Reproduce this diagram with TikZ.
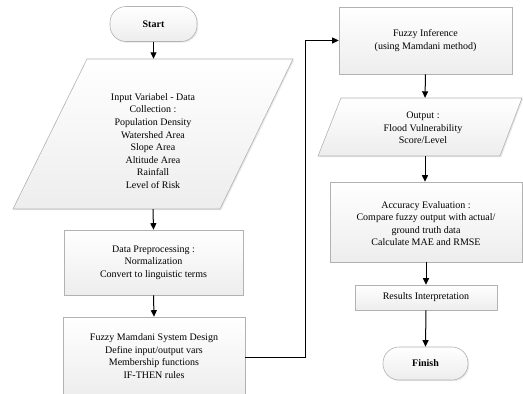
\documentclass[tikz,border=0pt]{standalone}
\usepackage{fontspec}
\setmainfont{Liberation Serif}
\usetikzlibrary{arrows.meta,shadows,calc}
\tikzset{
  boxsh/.style={draw=gray!60, line width=0.6pt, top color=white, bottom color=gray!14,
    drop shadow={shadow xshift=1.2pt, shadow yshift=-1.2pt, fill=gray!35}},
  procbox/.style={boxsh, rectangle, align=center, inner sep=0pt,
    font=\fontsize{10}{12.6}\selectfont},
  termbox/.style={boxsh, rounded corners=16pt, align=center, inner sep=0pt,
    font=\fontsize{10}{12}\selectfont\bfseries},
  txt/.style={align=center, inner sep=0pt, font=\fontsize{10}{12.6}\selectfont},
  arr/.style={line width=1pt, -{Triangle[length=6.5pt,width=6pt]}},
  conn/.style={line width=0.8pt, -{Triangle[length=6.5pt,width=6pt]}}
}
\begin{document}
\begin{tikzpicture}[x=1pt,y=-1pt]
\useasboundingbox (0,0) rectangle (523,394);
% Start
\node[termbox, minimum width=87pt, minimum height=35pt] (start) at (153.5,24) {Start};
% Input parallelogram
\path[boxsh] (87,59) -- (293,59) -- (220,209) -- (13,209) -- cycle;
\node[inner sep=0pt, minimum width=130pt, minimum height=150pt] (input) at (153,134) {};
\node[txt] (inputtext) at (153,141)
  {Input Variabel - Data\\Collection :\\Population Density\\Watershed Area\\Slope Area\\Altitude Area\\Rainfall\\Level of Risk};
% Data preprocessing
\node[procbox, minimum width=179pt, minimum height=65pt] (prep) at (153.5,262.5)
  {Data Preprocessing :\\Normalization\\Convert to linguistic terms};
% Fuzzy Mamdani system design
\node[procbox, minimum width=182pt, minimum height=80pt] (design) at (154,357) {};
\node[txt] (designtext) at (154,356) {Fuzzy Mamdani System Design\\Define input/output vars\\Membership functions\\IF-THEN rules};
% Fuzzy inference
\node[procbox, minimum width=173pt, minimum height=67pt] (infer) at (425.5,40.5)
  {Fuzzy Inference\\(using Mamdani method)};
% Output parallelogram
\path[boxsh] (341,98) -- (522,98) -- (500,156) -- (318,156) -- cycle;
\node[inner sep=0pt, minimum width=150pt, minimum height=58pt] (output) at (425,127) {};
\node[txt] (outputtext) at (423,128) {Output :\\Flood Vulnerability\\Score/Level};
% Accuracy evaluation
\node[procbox, minimum width=192pt, minimum height=80pt] (acc) at (426,222) {};
\node[txt] (acctext) at (426,223.5)
  {Accuracy Evaluation :\\Compare fuzzy output with actual/\\ground truth data\\Calculate MAE and RMSE};
% Results interpretation
\node[procbox, minimum width=142pt, minimum height=25pt] (res) at (426,297.5)
  {Results Interpretation};
% Finish
\node[termbox, minimum width=85pt, minimum height=33pt] (finish) at (425.5,363.5) {Finish};
% Connectors
\draw[arr] (start.south) -- (start.south |- input.north);
\draw[arr] (input.south) -- (prep.north);
\draw[arr] (prep.south) -- (design.north);
\draw[conn] (design.east) -- ++(60,0) |- (infer.west);
\draw[arr] (infer.south) -- (output.north);
\draw[arr] (output.south) -- (output.south |- acc.north);
\draw[arr] (acc.south) -- (res.north);
\draw[arr] (res.south) -- (finish.north);
\end{tikzpicture}
\end{document}
